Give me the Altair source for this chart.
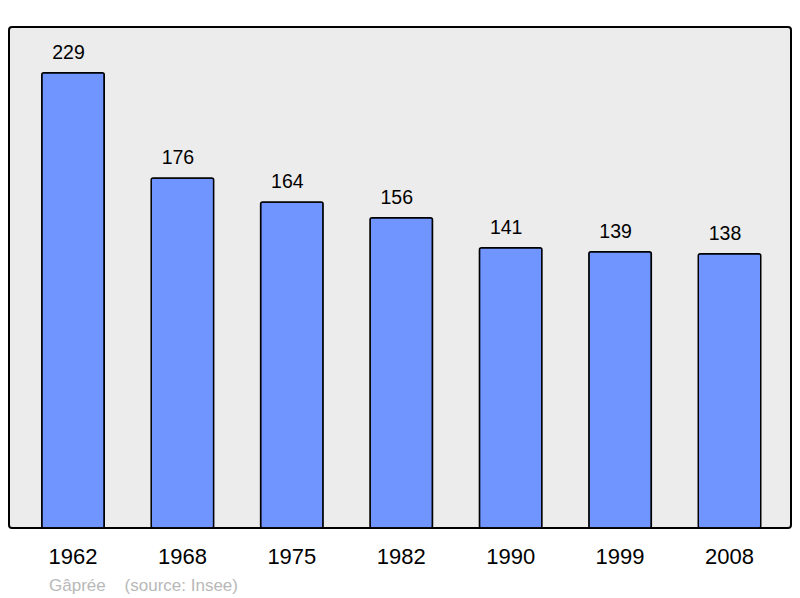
import altair as alt
import pandas as pd

years = ["1962", "1968", "1975", "1982", "1990", "1999", "2008"]
population = [229, 176, 164, 156, 141, 139, 138]

df = pd.DataFrame({"year": years, "pop": population})

FONT = "Liberation Sans"

x = alt.X(
    "year:N",
    sort=years,
    title=None,
    scale=alt.Scale(paddingInner=0.429, paddingOuter=0.288, align=0.52),
    axis=alt.Axis(
        domain=False,
        ticks=False,
        labelAngle=0,
        labelFontSize=22,
        labelFont=FONT,
        labelColor="black",
        labelPadding=18,
    ),
)
y = alt.Y("pop:Q", scale=alt.Scale(domain=[0, 252], nice=False, zero=True), axis=None)

bars = alt.Chart(df).mark_bar(
    color="#7195ff", stroke="black", strokeWidth=1.5, cornerRadius=2
).encode(x=x, y=y)

labels = alt.Chart(df).mark_text(
    baseline="bottom", dy=-10, dx=-4.5, fontSize=19.5, font=FONT, color="black"
).encode(x=x, y=y, text="pop:Q")

chart = (
    alt.layer(bars, labels)
    .properties(
        width=782,
        height=501,
        autosize=alt.AutoSizeParams(type="none"),
        padding={"left": 1, "top": 19, "right": 1, "bottom": 70},
        title=alt.TitleParams(
            text="Gâprée\u00a0\u00a0\u00a0\u00a0(source: Insee)",
            orient="bottom",
            anchor="start",
            dx=40,
            offset=11,
            fontSize=17,
            font=FONT,
            fontWeight="normal",
            color="#b8b8b8",
        ),
    )
    .configure_view(fill="#ececec", stroke="black", strokeWidth=2, cornerRadius=3)
)

chart.save("out.html", embed_options={"renderer": "svg", "actions": False})
